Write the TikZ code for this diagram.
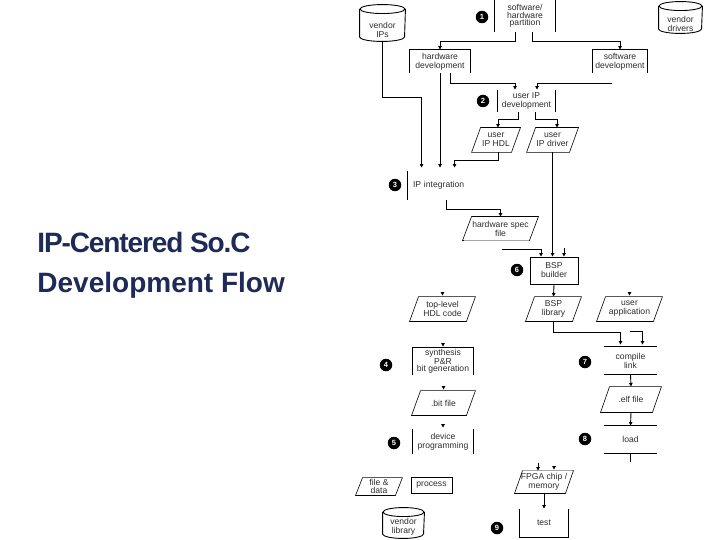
\documentclass[tikz,border=0pt]{standalone}
\usepackage{fontspec}
\newfontfamily\diafont{Liberation Sans}
\newfontfamily\titlefont{Liberation Sans}
\usetikzlibrary{arrows.meta,calc}
\definecolor{navy}{RGB}{30,42,88}
\definecolor{txt}{RGB}{45,45,45}
\newcommand{\drawcyl}[3]{%
  \draw ([yshift=#2]#1.north west) -- ([yshift=4.5pt]#1.south west)
    arc[start angle=180,end angle=360,x radius=#3,y radius=4.5pt]
    -- ([yshift=#2]#1.north east);
  \draw ([yshift=#2]#1.north) ellipse[x radius=#3,y radius=4.5pt];}
\begin{document}
\begin{tikzpicture}[x=1pt,y=-1pt,line width=0.9pt,
  lbl/.style={font=\diafont\fontsize{8.6}{9}\selectfont,text=txt,align=center},
  tight/.style={font=\diafont\fontsize{8.6}{7.6}\selectfont},
  box/.style={rectangle,inner sep=0pt,lbl},
  arr/.style={-{Triangle[length=3.5pt,width=3.5pt]}},
  para/.style={line width=0.6pt},
  badge/.style={circle,fill=black,text=white,minimum size=12.5pt,inner sep=0pt,
    font=\diafont\bfseries\fontsize{7.5}{7.5}\selectfont}]
\useasboundingbox (0,0) rectangle (720,540);

% title
\node[anchor=base west,inner sep=0pt,text=navy,font=\titlefont\bfseries\fontsize{28}{32}\selectfont\addfontfeature{LetterSpace=-4}] (t1) at (37,252) {IP-Centered So.C};
\node[anchor=base west,inner sep=0pt,text=navy,font=\titlefont\bfseries\fontsize{28}{32}\selectfont] (t2) at (37,292) {Development Flow};

% cylinders
\node[box,minimum width=45pt,minimum height=23pt] (vip) at (382.5,29.5) {vendor\\IPs};
\node[box,minimum width=43pt,minimum height=19pt] (vdrv) at (680.5,23.5) {vendor\\drivers};
\node[box,minimum width=41pt,minimum height=23pt] (vlib) at (403.5,526.5) {vendor\\library};
\drawcyl{vip}{8.5pt}{22.5pt}
\drawcyl{vdrv}{7.5pt}{21.5pt}
\drawcyl{vlib}{2.5pt}{20.5pt}

% process nodes
\node[box,tight,minimum width=60pt,minimum height=32pt] (part) at (525,16) {software/\\hardware\\partition};
\node[box,minimum width=60pt,minimum height=23pt] (hwd) at (440,61.5) {hardware\\development};
\node[box,minimum width=54pt,minimum height=23pt] (swd) at (620,61.5) {software\\development};
\node[box,minimum width=57pt,minimum height=22pt] (uipd) at (526.5,101) {user IP\\development};
\node[box,minimum width=48pt,minimum height=24pt] (hdl) at (496,140) {user\\IP HDL};
\node[box,minimum width=51pt,minimum height=24pt] (drv) at (552.5,140) {user\\IP driver};
\node[box,minimum width=64pt,minimum height=29pt,text width=54pt,align=left,inner xsep=5pt] (ipi) at (440,185.5) {IP integration};
\node[box,minimum width=75pt,minimum height=23pt] (hws) at (500.5,228.5) {hardware spec\\file};
\node[box,draw,minimum width=48pt,minimum height=27pt] (bsp) at (554,270.5) {BSP\\builder};
\node[box,minimum width=65pt,minimum height=24pt] (tlh) at (442.5,309) {top-level\\HDL code};
\node[box,minimum width=55pt,minimum height=24pt] (bsplib) at (553.5,309) {BSP\\library};
\node[box,minimum width=65pt,minimum height=24pt] (uapp) at (629.5,309) {user\\application};
\node[box,tight,minimum width=60pt,minimum height=27pt] (syn) at (443,361.5) {synthesis\\P\&R\\bit generation};
\node[box,minimum width=53pt,minimum height=27pt] (comp) at (630.5,360.5) {compile\\link};
\node[box,minimum width=63pt,minimum height=24pt] (bit) at (443.5,403) {.bit file};
\node[box,minimum width=60pt,minimum height=25pt] (elf) at (631,399.5) {.elf file};
\node[box,minimum width=60pt,minimum height=25pt] (dev) at (443,441.5) {device\\programming};
\node[box,minimum width=53pt,minimum height=27pt] (load) at (630.5,439.5) {load};
\node[box,tight,minimum width=46pt,minimum height=17pt] (fd) at (379,486.5) {file \&\\data};
\node[box,draw,minimum width=41pt,minimum height=16pt] (proc) at (431.5,485) {process};
\node[box,minimum width=58pt,minimum height=22pt] (fpga) at (544,482) {FPGA chip /\\memory};
\node[box,minimum width=48pt,minimum height=28pt] (test) at (544,523) {test};

% badges
\node[badge] (b1) at (482,17) {1};
\node[badge] (b2) at (483,101) {2};
\node[badge] (b3) at (395,185) {3};
\node[badge] (b4) at (386,365) {4};
\node[badge] (b5) at (394,443) {5};
\node[badge] (b6) at (517,270) {6};
\node[badge] (b7) at (585,362) {7};
\node[badge] (b8) at (585,439) {8};
\node[badge] (b9) at (497,528) {9};

% parallelograms
\foreach \n/\s in {hdl/9,drv/9,hws/9,tlh/9,bsplib/9,uapp/9,bit/9,elf/9,fd/7,fpga/8}
  \draw[para] (\n.south west) -- ([xshift=\s pt]\n.north west) -- (\n.north east) -- ([xshift=-\s pt]\n.south east) -- cycle;
\draw[gray!70,line width=1.6pt] ([xshift=1pt]hws.south west) -- ([xshift=-9pt]hws.south east);
\draw[gray!70,line width=1.6pt] ([xshift=8pt]fpga.north west) -- ([xshift=-1pt]fpga.north east);

% partial borders
\draw (part.north west) -- (part.south west) (part.north east) -- (part.south east);
\foreach \n in {hwd,swd,syn}
  \draw (\n.south west) -- (\n.north west) -- (\n.north east) -- (\n.south east);
\foreach \n in {uipd,dev}
  \draw (\n.north west) -- (\n.south west) (\n.north east) -- (\n.south east);
\draw (ipi.north west) -- (ipi.south west);
\foreach \n in {comp,load}
  \draw (\n.north west) -- (\n.north east) (\n.south west) -- (\n.south east);
\draw (test.north west) -- (test.south west) -- (test.south east) -- (test.north east);

% connectors
\draw[arr] ([xshift=-10pt]part.south) -- ++(0,9) -| (hwd.north);
\draw[arr] ([xshift=7pt]part.south) -- ++(0,9) -| (swd.north);
\draw[arr] (vip.south) -- ++(0,56) -| ([xshift=14pt,yshift=3pt]ipi.north west);
\draw[arr] (hwd.south) -- ($(hwd.south |- ipi.north)+(0,-3)$);
\draw[arr] ([xshift=10pt]hwd.south) -- ++(0,10) -| ([xshift=-11.5pt]uipd.north);
\draw[arr] ($(swd.south)+(-8,10)$) -| ([xshift=10.5pt]uipd.north);
\draw[arr] ([xshift=-8.5pt]uipd.south) -- ++(0,7) -| ([xshift=2pt]hdl.north);
\draw[arr] ([xshift=8.5pt]uipd.south) -- ++(0,7) -| ([xshift=4.5pt]drv.north);
\draw[arr] ([xshift=2pt]hdl.south) -- ++(0,8) -| ([xshift=47pt,yshift=3pt]ipi.north west);
\draw[arr] (drv.south) -- (drv.south |- bsp.north);
\draw[arr] ([xshift=39pt]ipi.south west) -- ++(0,9) -| (hws.north);
\draw[arr] ($(hws.south)+(1.5,9)$) -| ([xshift=-13pt]bsp.north);
\draw[arr] ($(bsp.north)+(10,-9)$) -- ([xshift=10pt]bsp.north);
\draw[arr] (bsp.south) -- (bsplib.north);
\draw[arr] (bsplib.south) -- ++(0,11) -| ([xshift=-10pt,yshift=2pt]comp.north);
\draw[arr] ($(comp.north)+(-1,-15)$) -| ([xshift=12pt,yshift=2pt]comp.north);
\draw[arr] (comp.south) -- (elf.north);
\draw[arr] (elf.south) -- (load.north);
\draw (load.south) -- ++(0,9);
\draw[arr] ($(fpga.north)+(-6,-8)$) -- ([xshift=-6pt]fpga.north);
\draw[arr] ($(fpga.north)+(10,-5)$) -- ([xshift=10pt,yshift=1pt]fpga.north);
\draw[arr] (fpga.south) -- (test.north);
\foreach \n in {tlh,syn,bit,dev,uapp}
  \draw[arr] ($(\n.north)+(0,-5)$) -- ([yshift=1pt]\n.north);
\end{tikzpicture}
\end{document}
